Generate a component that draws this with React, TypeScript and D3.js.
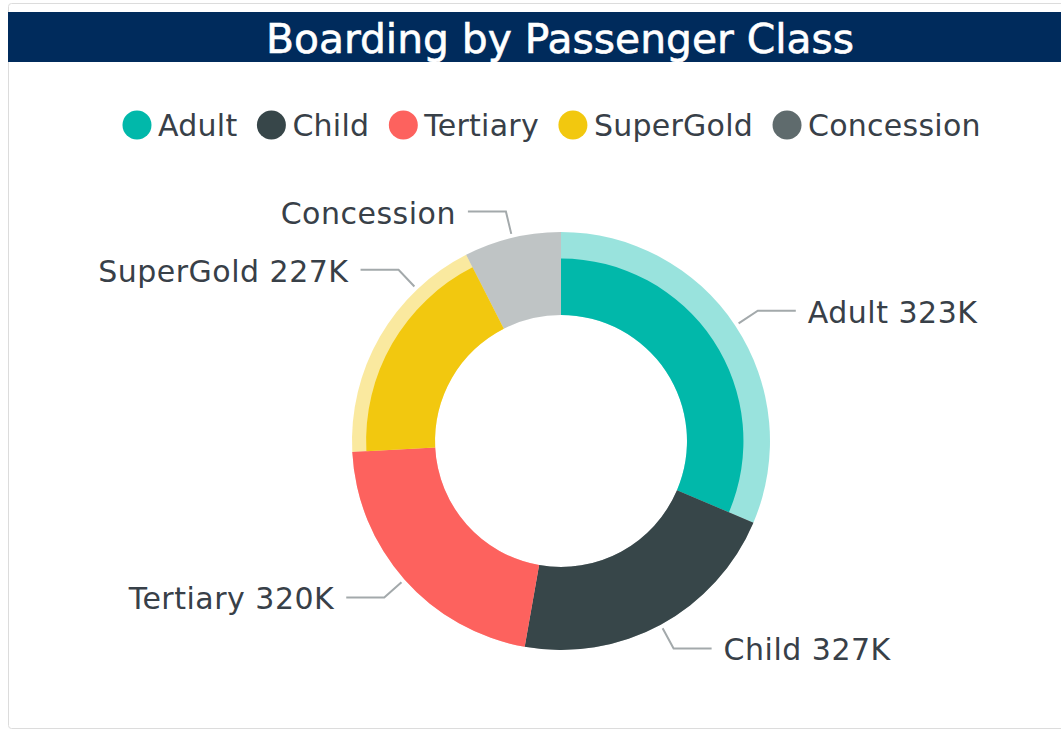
import React from 'react';
import * as d3 from 'd3';

// slices
const categories = ['Adult', 'Child', 'Tertiary', 'SuperGold', 'Concession'];
const labelValues = ['323K', '327K', '320K', '227K', ''];
const sliceShare = [113, 77, 77, 66, 27]; // angular share of the ring as drawn
const highlightShare = [0.68, 1, 1, 0.83, 0]; // highlighted part of each slice (radial)
const labelAnchor = [0.5, 0.5, 0.5, 0.75, 0.5];
const colors = ['#01B8AA', '#374649', '#FD625E', '#F2C80F', '#5F6B6D'];

const width = 1061;
const height = 732;
const cx = 561;
const cy = 441;
const innerR = 126;
const outerR = 209;
const font = '"DejaVu Sans", sans-serif';
const textColor = '#384048';

const measure = (txt: string, size: number, spacing: number) => {
  const ctx = document.createElement('canvas').getContext('2d');
  if (!ctx) return txt.length * (size * 0.58 + spacing);
  ctx.font = `${size}px "DejaVu Sans"`;
  return ctx.measureText(txt).width + txt.length * spacing;
};

export default function App() {
  const data = categories.map((c, i) => ({
    name: c,
    value: labelValues[i],
    share: sliceShare[i],
    hl: highlightShare[i],
    anchor: labelAnchor[i],
    color: colors[i],
  }));

  const pie = d3.pie<any>().sort(null).value(d => d.share);
  const arcs = pie(data);
  const rScale = d3.scaleLinear().domain([0, 1]).range([innerR, outerR]);
  const arcGen = d3.arc<any>();

  // legend layout
  const legendSize = 30;
  const legendSpacing = 0.25;
  let cursor = 137;
  const legend = data.map(d => {
    const item = { ...d, x: cursor };
    cursor += 22 + measure(d.name, legendSize, legendSpacing) + 33;
    return item;
  });

  const pt = (a: number, r: number) => [cx + r * Math.sin(a), cy - r * Math.cos(a)];

  return (
    <svg
      width={width}
      height={height}
      style={{ position: 'absolute', left: 0, top: 0, background: '#fff' }}
    >
      <rect x={8.5} y={3.5} width={1070} height={725} rx={3} fill="#fff" stroke="#dcdcdc" />
      <rect x={8} y={12} width={1053} height={50} fill="#002B5C" />
      <text
        x={560}
        y={53}
        textAnchor="middle"
        fill="#fff"
        fontFamily={font}
        fontSize={40}
        stroke="#fff"
        strokeWidth={0.6}
        textLength={588}
        lengthAdjust="spacingAndGlyphs"
      >
        Boarding by Passenger Class
      </text>

      <g className="legend">
        {legend.map(d => (
          <g key={d.name} transform={`translate(${d.x},125)`}>
            <circle r={14.5} fill={d.color} />
            <text
              x={21}
              dy="0.36em"
              fill={textColor}
              fontFamily={font}
              fontSize={legendSize}
              letterSpacing={legendSpacing}
            >
              {d.name}
            </text>
          </g>
        ))}
      </g>

      <g className="donut" transform={`translate(${cx},${cy})`}>
        {arcs.map(a => (
          <path
            key={a.data.name + '-bg'}
            d={arcGen({ ...a, innerRadius: innerR, outerRadius: outerR }) || ''}
            fill={a.data.color}
            fillOpacity={0.4}
          />
        ))}
        {arcs.map(a => (
          <path
            key={a.data.name + '-hl'}
            d={arcGen({ ...a, innerRadius: innerR, outerRadius: rScale(a.data.hl) }) || ''}
            fill={a.data.color}
          />
        ))}
      </g>

      <g className="labels">
        {arcs.map(a => {
          const ang = a.startAngle + (a.endAngle - a.startAngle) * a.data.anchor;
          const right = ang < Math.PI;
          const [x0, y0] = pt(ang, 213);
          const [x1, y1] = pt(ang, 236);
          const x2 = x1 + (right ? 38 : -38);
          const label = a.data.value ? `${a.data.name} ${a.data.value}` : a.data.name;
          return (
            <g key={a.data.name + '-lbl'}>
              <polyline
                points={`${x0},${y0} ${x1},${y1} ${x2},${y1}`}
                fill="none"
                stroke="#a3a9ab"
                strokeWidth={2}
              />
              <text
                x={x2 + (right ? 12 : -12)}
                y={y1 + 12}
                textAnchor={right ? 'start' : 'end'}
                fill={textColor}
                fontFamily={font}
                fontSize={30}
                letterSpacing={0.5}
              >
                {label}
              </text>
            </g>
          );
        })}
      </g>
    </svg>
  );
}
